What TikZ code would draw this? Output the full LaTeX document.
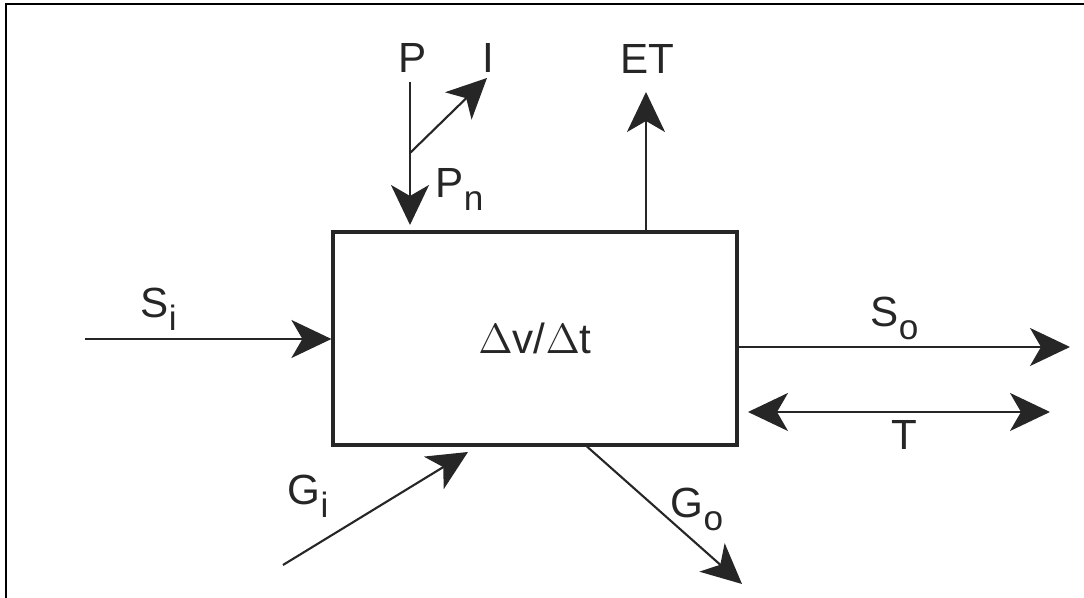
\documentclass[tikz,border=0pt]{standalone}
\usepackage{fontspec}
\setmainfont{Liberation Sans}
\usetikzlibrary{arrows.meta}
\newcommand{\lowidx}[1]{\raisebox{-3.6pt}{\fontsize{10}{10}\selectfont #1}}
\tikzset{
  flow/.style={-{Stealth[length=4mm,width=3.8mm,inset=1.1mm]}, line width=0.6pt, draw=black!85},
  twoway/.style={{Stealth[length=4mm,width=3.8mm,inset=1.1mm]}-{Stealth[length=4mm,width=3.8mm,inset=1.1mm]}, line width=0.6pt, draw=black!85},
  lbl/.style={inner sep=0pt, text=black!85, font=\fontsize{12}{14}\selectfont},
}
\begin{document}
\begin{tikzpicture}
\useasboundingbox (0,0) rectangle (10.84,5.98);
\draw[line width=0.7pt] (0.06,0) -- (0.06,5.94) -- (10.84,5.94);
\node[draw=black!85, line width=0.9pt, minimum width=4.04cm, minimum height=2.13cm, lbl] (box) at (5.35,2.595) {$\Delta$v/$\Delta$t};
\coordinate (si) at (0.85,2.59);
\draw[flow] (si) -- (si -| box.west);
\node[lbl, anchor=base west] (silbl) at (1.40,2.80) {S\lowidx{i}};
\coordinate (so) at (10.70,2.51);
\draw[flow] (so -| box.east) -- (so);
\node[lbl, anchor=base west] (solbl) at (8.70,2.71) {S\lowidx{o}};
\coordinate (tl) at (7.48,1.86);
\coordinate (tr) at (10.50,1.86);
\draw[twoway] (tl) -- (tr);
\node[lbl] (tlbl) at (9.04,1.63) {T};
\coordinate (et) at (6.46,5.06);
\draw[flow] (et |- box.north) -- (et);
\node[lbl] (etlbl) at (6.47,5.39) {ET};
\node[lbl] (plbl) at (4.13,5.40) {P};
\node[lbl] (ilbl) at (4.88,5.40) {I};
\coordinate (ptop) at (4.10,5.16);
\coordinate (pn) at (4.10,3.73);
\coordinate (split) at (4.10,4.45);
\coordinate (itip) at (4.87,5.20);
\draw[flow] (ptop) -- (pn);
\draw[flow] (split) -- (itip);
\node[lbl, anchor=base west] (pnlbl) at (4.35,4.00) {P\lowidx{n}};
\coordinate (gi) at (2.83,0.33);
\coordinate (gitip) at (4.68,1.46);
\draw[flow] (gi) -- (gitip);
\node[lbl, anchor=base west] (gilbl) at (2.87,0.93) {G\lowidx{i}};
\coordinate (gobase) at (5.87,0);
\coordinate (go) at (7.42,0.14);
\draw[flow] (gobase |- box.south) -- (go);
\node[lbl, anchor=base west] (golbl) at (6.70,0.80) {G\lowidx{o}};
\end{tikzpicture}
\end{document}
